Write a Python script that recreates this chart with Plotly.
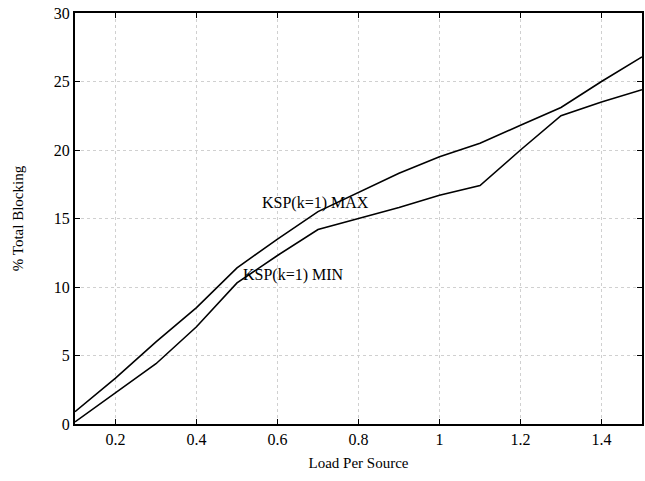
import plotly.graph_objects as go

load = [0.1, 0.2, 0.3, 0.4, 0.5, 0.6, 0.7, 0.8, 0.9, 1.0, 1.1, 1.2, 1.3, 1.4, 1.5]
ksp_max = [0.9, 3.35, 6.0, 8.5, 11.4, 13.5, 15.5, 16.9, 18.3, 19.5, 20.5, 21.8, 23.1, 25.0, 26.8]
ksp_min = [0.15, 2.3, 4.4, 7.1, 10.3, 12.3, 14.2, 15.0, 15.8, 16.7, 17.4, 20.0, 22.5, 23.5, 24.4]

x_ticks = [0.2, 0.4, 0.6, 0.8, 1.0, 1.2, 1.4]
x_tick_labels = ["0.2", "0.4", "0.6", "0.8", "1", "1.2", "1.4"]
y_ticks = [0, 5, 10, 15, 20, 25, 30]

font = "Liberation Serif, Times New Roman, serif"

fig = go.Figure()
fig.add_trace(go.Scatter(x=load, y=ksp_max, mode="lines", line=dict(color="black", width=1.6), showlegend=False))
fig.add_trace(go.Scatter(x=load, y=ksp_min, mode="lines", line=dict(color="black", width=1.6), showlegend=False))

fig.add_annotation(x=0.694, y=16.1, text="KSP(k=1) MAX", showarrow=False, font=dict(family=font, size=16, color="black"))
fig.add_annotation(x=0.639, y=10.9, text="KSP(k=1) MIN", showarrow=False, font=dict(family=font, size=16, color="black"))

axis_common = dict(
    showline=True, linecolor="black", linewidth=2, mirror="ticks",
    ticks="inside", ticklen=5, tickcolor="black",
    showgrid=True, gridcolor="#d0d0d0", griddash="dot", gridwidth=1,
    zeroline=False,
    tickfont=dict(family=font, size=16, color="black"),
)

fig.update_layout(
    width=645, height=481,
    margin=dict(l=75, r=1, t=13, b=57),
    paper_bgcolor="white", plot_bgcolor="white",
    xaxis=dict(range=[0.1, 1.5], tickvals=x_ticks, ticktext=x_tick_labels,
               title=dict(text="Load Per Source", font=dict(family=font, size=15, color="black"), standoff=10),
               **axis_common),
    yaxis=dict(range=[0, 30], tickvals=y_ticks,
               title=dict(text="% Total Blocking", font=dict(family=font, size=15, color="black"), standoff=27),
               **axis_common),
)

fig.write_html("out.html")
